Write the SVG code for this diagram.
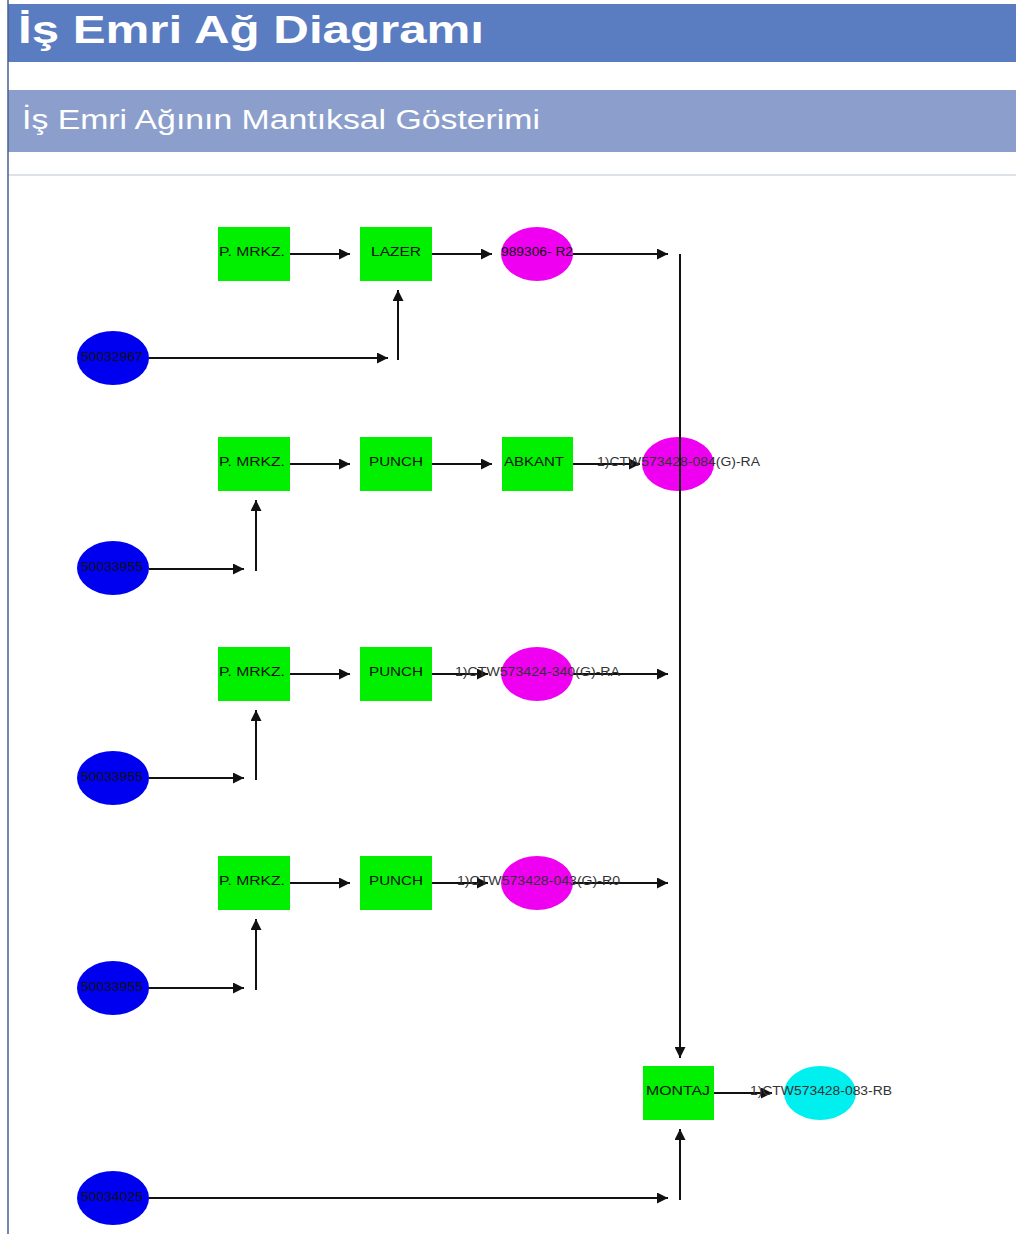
<svg xmlns="http://www.w3.org/2000/svg" width="1016" height="1234" viewBox="0 0 1016 1234">
<style>
.op{fill:#00f000}
.mat{fill:#0000f0}
.semi{fill:#f000f0}
.fin{fill:#00f0f0}
.lbl{font-family:"Liberation Sans",Arial,sans-serif;font-size:12px;fill:#111;text-anchor:middle}
.lblL{font-family:"Liberation Sans",Arial,sans-serif;font-size:12px;fill:#333}
.c{stroke:#111;stroke-width:2;fill:none}
</style>
<defs>
<marker id="ah" viewBox="0 0 10 10" refX="10" refY="5" markerWidth="5.5" markerHeight="5.5" orient="auto" markerUnits="strokeWidth">
<path d="M0,0 L10,5 L0,10 z" fill="#111"/>
</marker>
</defs>
<rect width="1016" height="1234" fill="#fff"/>
<g id="header">
<rect x="8" y="4" width="1008" height="58" fill="#5a7cc0"/>
<text x="18" y="43" font-family="Liberation Sans,Arial,sans-serif" font-size="38" font-weight="bold" fill="#fff" textLength="466" lengthAdjust="spacingAndGlyphs">İş Emri Ağ Diagramı</text>
<rect x="8" y="90" width="1008" height="62" fill="#8c9fcc"/>
<text x="22" y="129" font-family="Liberation Sans,Arial,sans-serif" font-size="27" fill="#fff" textLength="518" lengthAdjust="spacingAndGlyphs">İş Emri Ağının Mantıksal Gösterimi</text>
<line x1="8" y1="175" x2="1016" y2="175" stroke="#dde2ea" stroke-width="2"/>
<line x1="8" y1="0" x2="8" y2="1234" stroke="#4a5f90" stroke-width="1.5"/>
</g>
<g id="connectors">
<line class="c" x1="290" y1="254" x2="350" y2="254" marker-end="url(#ah)"/>
<line class="c" x1="432" y1="254" x2="492" y2="254" marker-end="url(#ah)"/>
<line class="c" x1="573" y1="254" x2="668" y2="254" marker-end="url(#ah)"/>
<line class="c" x1="149" y1="358" x2="388" y2="358" marker-end="url(#ah)"/>
<line class="c" x1="398" y1="360" x2="398" y2="290" marker-end="url(#ah)"/>
<line class="c" x1="290" y1="464" x2="350" y2="464" marker-end="url(#ah)"/>
<line class="c" x1="432" y1="464" x2="492" y2="464" marker-end="url(#ah)"/>
<line class="c" x1="573" y1="464" x2="640" y2="464" marker-end="url(#ah)"/>
<line class="c" x1="149" y1="569" x2="244" y2="569" marker-end="url(#ah)"/>
<line class="c" x1="256" y1="571" x2="256" y2="500" marker-end="url(#ah)"/>
<line class="c" x1="290" y1="674" x2="350" y2="674" marker-end="url(#ah)"/>
<line class="c" x1="432" y1="674" x2="488" y2="674" marker-end="url(#ah)"/>
<line class="c" x1="573" y1="674" x2="668" y2="674" marker-end="url(#ah)"/>
<line class="c" x1="149" y1="778" x2="244" y2="778" marker-end="url(#ah)"/>
<line class="c" x1="256" y1="780" x2="256" y2="710" marker-end="url(#ah)"/>
<line class="c" x1="290" y1="883" x2="350" y2="883" marker-end="url(#ah)"/>
<line class="c" x1="432" y1="883" x2="488" y2="883" marker-end="url(#ah)"/>
<line class="c" x1="573" y1="883" x2="668" y2="883" marker-end="url(#ah)"/>
<line class="c" x1="149" y1="988" x2="244" y2="988" marker-end="url(#ah)"/>
<line class="c" x1="256" y1="990" x2="256" y2="919" marker-end="url(#ah)"/>
<line class="c" x1="149" y1="1198" x2="668" y2="1198" marker-end="url(#ah)"/>
<line class="c" x1="680" y1="1200" x2="680" y2="1129" marker-end="url(#ah)"/>
<line class="c" x1="714" y1="1093" x2="772" y2="1093" marker-end="url(#ah)"/>
</g>
<g id="n-pmrkz1"><rect class="op" x="218" y="227" width="72" height="54"/><text class="lbl" x="252" y="256" textLength="66" lengthAdjust="spacingAndGlyphs">P. MRKZ.</text></g>
<g id="n-lazer"><rect class="op" x="360" y="227" width="72" height="54"/><text class="lbl" x="396" y="256" textLength="50" lengthAdjust="spacingAndGlyphs">LAZER</text></g>
<g id="n-semi1"><ellipse class="semi" cx="537" cy="254" rx="36" ry="27"/><text class="lbl" x="537" y="256" textLength="72" lengthAdjust="spacingAndGlyphs">989306- R2</text></g>
<g id="n-mat1"><ellipse class="mat" cx="113" cy="358" rx="36" ry="27"/><text class="lbl" x="112" y="361" textLength="62" lengthAdjust="spacingAndGlyphs">50032967</text></g>
<g id="n-pmrkz2"><rect class="op" x="218" y="437" width="72" height="54"/><text class="lbl" x="252" y="466" textLength="66" lengthAdjust="spacingAndGlyphs">P. MRKZ.</text></g>
<g id="n-punch2"><rect class="op" x="360" y="437" width="72" height="54"/><text class="lbl" x="396" y="466" textLength="54" lengthAdjust="spacingAndGlyphs">PUNCH</text></g>
<g id="n-abkant"><rect class="op" x="502" y="437" width="71" height="54"/><text class="lbl" x="534" y="466" textLength="60" lengthAdjust="spacingAndGlyphs">ABKANT</text></g>
<g id="n-semi2"><ellipse class="semi" cx="678" cy="464" rx="36" ry="27"/></g>
<g id="n-mat2"><ellipse class="mat" cx="113" cy="568" rx="36" ry="27"/><text class="lbl" x="112" y="571" textLength="62" lengthAdjust="spacingAndGlyphs">50033955</text></g>
<g id="n-pmrkz3"><rect class="op" x="218" y="647" width="72" height="54"/><text class="lbl" x="252" y="676" textLength="66" lengthAdjust="spacingAndGlyphs">P. MRKZ.</text></g>
<g id="n-punch3"><rect class="op" x="360" y="647" width="72" height="54"/><text class="lbl" x="396" y="676" textLength="54" lengthAdjust="spacingAndGlyphs">PUNCH</text></g>
<g id="n-semi3"><ellipse class="semi" cx="537" cy="674" rx="36" ry="27"/><text class="lblL" x="455" y="676" textLength="165" lengthAdjust="spacingAndGlyphs">1)CTW573424-340(G)-RA</text></g>
<g id="n-mat3"><ellipse class="mat" cx="113" cy="778" rx="36" ry="27"/><text class="lbl" x="112" y="781" textLength="62" lengthAdjust="spacingAndGlyphs">50033955</text></g>
<g id="n-pmrkz4"><rect class="op" x="218" y="856" width="72" height="54"/><text class="lbl" x="252" y="885" textLength="66" lengthAdjust="spacingAndGlyphs">P. MRKZ.</text></g>
<g id="n-punch4"><rect class="op" x="360" y="856" width="72" height="54"/><text class="lbl" x="396" y="885" textLength="54" lengthAdjust="spacingAndGlyphs">PUNCH</text></g>
<g id="n-semi4"><ellipse class="semi" cx="537" cy="883" rx="36" ry="27"/><text class="lblL" x="457" y="885" textLength="163" lengthAdjust="spacingAndGlyphs">1)CTW573428-043(G)-R0</text></g>
<g id="n-mat4"><ellipse class="mat" cx="113" cy="988" rx="36" ry="27"/><text class="lbl" x="112" y="991" textLength="62" lengthAdjust="spacingAndGlyphs">50033955</text></g>
<g id="n-montaj"><rect class="op" x="643" y="1066" width="71" height="54"/><text class="lbl" x="678" y="1095" textLength="64" lengthAdjust="spacingAndGlyphs">MONTAJ</text></g>
<g id="n-fin"><ellipse class="fin" cx="820" cy="1093" rx="36" ry="27"/><text class="lblL" x="750" y="1095" textLength="142" lengthAdjust="spacingAndGlyphs">1)CTW573428-083-RB</text></g>
<g id="n-mat5"><ellipse class="mat" cx="113" cy="1198" rx="36" ry="27"/><text class="lbl" x="112" y="1201" textLength="62" lengthAdjust="spacingAndGlyphs">50034025</text></g>
<g id="trunk">
<line class="c" x1="680" y1="254" x2="680" y2="1058" marker-end="url(#ah)"/>
<text class="lblL" x="597" y="466" textLength="163" lengthAdjust="spacingAndGlyphs">1)CTW573428-084(G)-RA</text>
</g>
</svg>
